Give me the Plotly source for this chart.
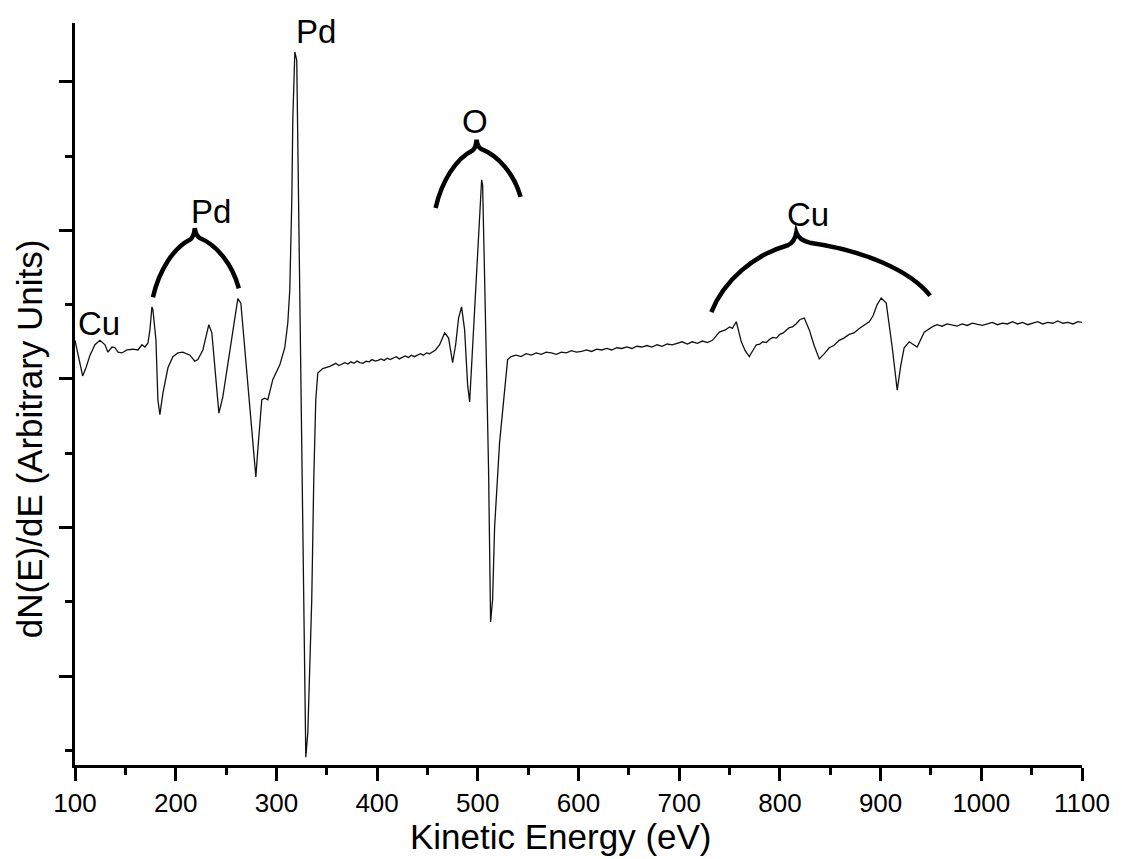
import plotly.graph_objects as go

# ---- Spectrum (kinetic energy in eV, dN(E)/dE in arbitrary units) ----
energy = [
    100.0, 103.9, 107.6, 110.9, 114.9, 119.8, 124.8, 129.8, 132.7, 136.7, 139.7, 142.7, 146.6,
    151.6, 157.5, 162.5, 166.5, 169.4, 172.4, 174.4, 176.4, 177.4, 180.4, 182.3, 184.3, 187.3,
    192.3, 197.2, 202.2, 207.1, 214.1, 219.0, 222.0, 227.0, 231.0, 232.9, 235.9, 238.9, 242.9,
    246.8, 250.8, 253.8, 258.7, 261.7, 264.7, 266.7, 271.6, 276.6, 279.6, 281.5, 285.5, 288.5,
    291.5, 296.4, 303.4, 308.3, 311.3, 313.3, 315.3, 316.3, 318.3, 320.2, 321.2, 323.2, 325.2,
    327.2, 329.2, 331.2, 333.1, 335.1, 337.1, 339.1, 341.1, 346.0, 353.0,
    356, 359, 362, 365, 368, 371, 374, 377, 380, 383, 386, 389, 392, 395, 398, 401, 404, 407,
    410, 413, 416, 419, 422, 425, 428, 431, 434, 437, 440, 443, 446, 449, 452, 455, 458,
    462.1, 467.1, 471.0, 475.0, 478.0, 480.9, 483.9, 486.9, 489.9, 491.9, 494.9, 497.8, 500.8,
    503.8, 504.8, 506.8, 508.7, 510.7, 512.7, 514.7, 516.7, 521.6, 526.6, 529.6,
    533, 538, 543, 548, 553, 558, 563, 568, 573, 578, 583, 588, 593, 598, 603, 608, 613, 618,
    623, 628, 633, 638, 643, 648, 653, 658, 663, 668, 673, 678, 683, 688, 693, 698, 703, 708,
    713, 718, 723, 728, 733,
    739.9, 745.8, 750.0, 752.8, 756.7, 761.7, 765.5, 769.6, 773.0, 776.6, 780.0, 783.0, 786.5,
    789.5, 793.0, 796.5, 800.0, 803.4, 806.5, 809.3, 812.5, 816.0, 820.0, 824.2, 829.2, 834.0,
    839.1, 843.5, 849.0, 853.5, 858.9, 863.5, 868.8, 873.5, 878.8, 883.5, 888.7, 892.5, 896.6,
    900.6, 905.6, 911.5, 916.5, 920.0, 923.4, 928.4, 932.0, 936.3, 943.3, 951.2,
    956, 961, 966, 971, 976, 981, 986, 991, 996, 1001, 1006, 1011, 1016, 1021, 1026, 1031,
    1036, 1041, 1046, 1051, 1056, 1061, 1066, 1071, 1076, 1081, 1086, 1091, 1096, 1100,
]
signal = [
    0.52, 0.26, 0.04, 0.15, 0.32, 0.46, 0.52, 0.46, 0.36, 0.43, 0.42, 0.36, 0.35,
    0.39, 0.40, 0.39, 0.46, 0.43, 0.48, 0.66, 0.97, 0.93, 0.52, -0.28, -0.48, -0.19,
    0.15, 0.30, 0.35, 0.36, 0.32, 0.24, 0.26, 0.39, 0.63, 0.73, 0.62, 0.16, -0.46,
    -0.24, 0.12, 0.39, 0.83, 1.08, 1.02, 0.70, -0.11, -0.96, -1.32, -0.96, -0.28, -0.26,
    -0.28, -0.01, 0.19, 0.42, 0.75, 1.20, 2.41, 3.49, 4.40, 4.29, 3.25, 1.17, -0.92,
    -3.00, -5.09, -4.76, -3.78, -2.97, -1.36, -0.28, 0.08, 0.14, 0.17,
    0.19, 0.21, 0.18, 0.20, 0.22, 0.20, 0.23, 0.21, 0.24, 0.22, 0.21, 0.24, 0.23, 0.26, 0.24,
    0.25, 0.27, 0.25, 0.28, 0.26, 0.28, 0.30, 0.27, 0.29, 0.31, 0.29, 0.32, 0.30, 0.32, 0.34,
    0.32, 0.35, 0.34, 0.37, 0.39,
    0.46, 0.62, 0.55, 0.22, 0.46, 0.82, 0.97, 0.66, -0.08, -0.31, 0.44, 1.19, 1.94,
    2.68, 2.61, 1.47, 0.12, -1.22, -3.27, -2.97, -1.99, -0.86, -0.19, 0.26,
    0.30, 0.32, 0.30, 0.34, 0.32, 0.35, 0.33, 0.36, 0.35, 0.33, 0.36, 0.35, 0.38, 0.36, 0.37,
    0.39, 0.37, 0.40, 0.39, 0.41, 0.39, 0.42, 0.41, 0.43, 0.41, 0.44, 0.43, 0.45, 0.43, 0.46,
    0.44, 0.47, 0.46, 0.48, 0.50, 0.47, 0.50, 0.48, 0.51, 0.49, 0.52,
    0.63, 0.66, 0.70, 0.68, 0.77, 0.50, 0.38, 0.30, 0.38, 0.46, 0.47, 0.50, 0.49,
    0.53, 0.56, 0.55, 0.60, 0.62, 0.66, 0.69, 0.70, 0.74, 0.80, 0.82, 0.66, 0.45,
    0.27, 0.33, 0.42, 0.45, 0.52, 0.55, 0.60, 0.62, 0.68, 0.72, 0.77, 0.85, 1.00,
    1.09, 1.02, 0.43, -0.15, 0.18, 0.42, 0.50, 0.47, 0.43, 0.63, 0.70,
    0.73, 0.71, 0.74, 0.72, 0.71, 0.74, 0.72, 0.75, 0.73, 0.72, 0.74, 0.76, 0.73, 0.75, 0.74,
    0.77, 0.74, 0.76, 0.73, 0.75, 0.77, 0.74, 0.76, 0.75, 0.78, 0.75, 0.76, 0.74, 0.77, 0.76,
]

# ---- Peak labels ----
label_text = ["Cu", "Pd", "Pd", "O", "Cu"]
label_energy = [124.0, 235.5, 339.0, 496.8, 828.2]
label_signal = [0.74, 2.26, 4.67, 3.47, 2.21]

# ---- Curly brackets grouping peaks (left end, tip, right end) ----
bracket_left_energy = [177.4, 458.1, 731.9]
bracket_left_signal = [1.10, 2.30, 0.90]
bracket_tip_energy = [219.0, 498.8, 816.3]
bracket_tip_signal = [2.03, 3.22, 1.97]
bracket_right_energy = [262.7, 542.5, 949.2]
bracket_right_signal = [1.22, 2.45, 1.12]

x_ticks = list(range(100, 1101, 100))

FONT = "Liberation Sans, Arial, sans-serif"

fig = go.Figure()
fig.add_trace(go.Scatter(x=energy, y=signal, mode="lines",
                         line=dict(color="#111111", width=1.3), hoverinfo="skip"))


def brace_path(xl, yl, xt, yt, xr, yr):
    """Curly brace: two arches that curl upward into a pointed tip."""
    dxl, dyl = xt - xl, yt - yl
    dxr, dyr = xr - xt, yt - yr
    ax, ay = xt - 0.10 * dxl, yt - 0.16 * dyl
    bx, by = xt + 0.10 * dxr, yt - 0.16 * dyr
    return (f"M {xl},{yl} C {xl + 0.15 * dxl},{yl + 0.4 * dyl} "
            f"{xl + 0.5 * dxl},{yt - 0.28 * dyl} {ax},{ay} "
            f"Q {xt - 0.02 * dxl},{yt - 0.12 * dyl} {xt},{yt} "
            f"Q {xt + 0.02 * dxr},{yt - 0.12 * dyr} {bx},{by} "
            f"C {xr - 0.5 * dxr},{yt - 0.28 * dyr} {xr - 0.15 * dxr},{yr + 0.4 * dyr} {xr},{yr}")


for i in range(len(bracket_tip_energy)):
    fig.add_shape(type="path", xref="x", yref="y",
                  path=brace_path(bracket_left_energy[i], bracket_left_signal[i],
                                  bracket_tip_energy[i], bracket_tip_signal[i],
                                  bracket_right_energy[i], bracket_right_signal[i]),
                  line=dict(color="black", width=4.5))

for t, ex, sy in zip(label_text, label_energy, label_signal):
    fig.add_annotation(x=ex, y=sy, xref="x", yref="y", text=t, showarrow=False,
                       font=dict(family=FONT, size=33, color="black"),
                       xanchor="center", yanchor="middle")

fig.add_annotation(text="Kinetic Energy (eV)", xref="paper", yref="paper",
                   x=0.483, y=-0.0965, showarrow=False, xanchor="center", yanchor="middle",
                   font=dict(family=FONT, size=35, color="black"))
fig.add_annotation(text="dN(E)/dE (Arbitrary Units)", xref="paper", yref="paper",
                   x=-0.045, y=0.44, showarrow=False, textangle=-90,
                   xanchor="center", yanchor="middle",
                   font=dict(family=FONT, size=35, color="black"))

fig.update_layout(
    width=1122, height=859,
    margin=dict(l=75, r=38, t=23, b=94),
    plot_bgcolor="white", paper_bgcolor="white",
    showlegend=False,
)
fig.update_xaxes(
    range=[100, 1100], tickvals=x_ticks, ticktext=[str(v) for v in x_ticks],
    showline=True, linecolor="black", linewidth=2.5,
    ticks="outside", ticklen=13, tickwidth=2.5, tickcolor="black",
    tickfont=dict(family=FONT, size=26, color="black"),
    ticklabelstandoff=0,
    showgrid=False, zeroline=False,
    minor=dict(dtick=50, tick0=100, ticks="outside", ticklen=7, tickwidth=2.5,
               tickcolor="black", showgrid=False),
)
fig.update_yaxes(
    range=[-5.195, 4.79], dtick=2, tick0=0,
    showline=True, linecolor="black", linewidth=2.5,
    ticks="outside", ticklen=13, tickwidth=2.5, tickcolor="black",
    showticklabels=False, showgrid=False, zeroline=False,
    minor=dict(dtick=1, tick0=0, ticks="outside", ticklen=7, tickwidth=2.5,
               tickcolor="black", showgrid=False),
)

fig.write_html("out.html")
